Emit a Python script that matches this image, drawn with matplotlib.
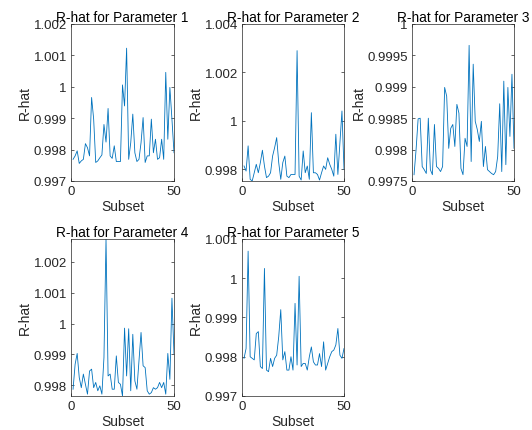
import matplotlib
matplotlib.use("Agg")
import matplotlib.pyplot as plt
import numpy as np

subsets = list(range(1, 51))

rhat_p1 = [0.99769, 0.99780, 0.99796, 0.99756, 0.99764, 0.99769, 0.99819, 0.99806, 0.99780, 0.99966,
           0.99897, 0.99759, 0.99764, 0.99774, 0.99783, 0.99880, 0.99824, 0.99931, 0.99780, 0.99772,
           0.99812, 0.99762, 0.99762, 0.99762, 1.00006, 0.99939, 1.00123, 0.99769, 0.99822, 0.99913,
           0.99790, 0.99762, 0.99769, 0.99822, 0.99902, 0.99759, 0.99780, 0.99780, 0.99897, 0.99790,
           0.99833, 0.99769, 0.99774, 0.99833, 0.99769, 1.00046, 0.99833, 0.99998, 0.99897, 0.99790]

rhat_p2 = [0.99814, 0.99793, 0.99897, 0.99759, 0.99752, 0.99786, 0.99821, 0.99786, 0.99828, 0.99879,
           0.99814, 0.99766, 0.99772, 0.99786, 0.99855, 0.99890, 0.99931, 0.99828, 0.99759, 0.99828,
           0.99855, 0.99772, 0.99766, 0.99779, 0.99779, 0.99779, 1.00290, 0.99772, 0.99756, 0.99876,
           0.99786, 0.99814, 0.99759, 1.00034, 0.99786, 0.99786, 0.99779, 0.99756, 0.99786, 0.99814,
           0.99800, 0.99848, 0.99821, 0.99800, 0.99772, 0.99945, 0.99779, 0.99910, 1.00041, 0.99800]

rhat_p3 = [0.99760, 0.99800, 0.99849, 0.99850, 0.99773, 0.99768, 0.99762, 0.99850, 0.99768, 0.99760,
           0.99840, 0.99773, 0.99770, 0.99765, 0.99773, 0.99899, 0.99885, 0.99802, 0.99834, 0.99840,
           0.99805, 0.99872, 0.99858, 0.99770, 0.99760, 0.99818, 0.99805, 0.99966, 0.99781, 0.99936,
           0.99845, 0.99832, 0.99813, 0.99845, 0.99773, 0.99805, 0.99768, 0.99765, 0.99762, 0.99760,
           0.99765, 0.99789, 0.99873, 0.99765, 0.99909, 0.99776, 0.99899, 0.99821, 0.99920, 0.99802]

rhat_p4 = [0.99787, 0.99868, 0.99903, 0.99825, 0.99792, 0.99836, 0.99803, 0.99771, 0.99846, 0.99852,
           0.99792, 0.99809, 0.99782, 0.99798, 0.99771, 0.99890, 1.00274, 0.99830, 0.99836, 0.99787,
           0.99787, 0.99895, 0.99809, 0.99803, 0.99765, 0.99985, 0.99830, 0.99983, 0.99782, 0.99965,
           0.99814, 0.99787, 0.99879, 0.99971, 0.99863, 0.99857, 0.99782, 0.99771, 0.99776, 0.99792,
           0.99787, 0.99792, 0.99809, 0.99792, 0.99809, 0.99771, 0.99903, 0.99819, 1.00082, 0.99901]

rhat_p5 = [0.99796, 0.99821, 1.00069, 0.99800, 0.99796, 0.99792, 0.99859, 0.99864, 0.99775, 0.99770,
           1.00025, 0.99766, 0.99762, 0.99796, 0.99775, 0.99796, 0.99804, 0.99851, 0.99920, 0.99792,
           0.99813, 0.99766, 0.99766, 0.99800, 0.99766, 0.99936, 0.99779, 1.00005, 0.99775, 0.99783,
           0.99783, 0.99766, 0.99800, 0.99825, 0.99787, 0.99779, 0.99779, 0.99808, 0.99775, 0.99838,
           0.99766, 0.99783, 0.99800, 0.99813, 0.99817, 0.99830, 0.99872, 0.99804, 0.99796, 0.99821]

series = [rhat_p1, rhat_p2, rhat_p3, rhat_p4, rhat_p5]
titles = ["R-hat for Parameter 1", "R-hat for Parameter 2", "R-hat for Parameter 3",
          "R-hat for Parameter 4", "R-hat for Parameter 5"]

yticks = [
    [0.997, 0.998, 0.999, 1.0, 1.001, 1.002],
    [0.998, 1.0, 1.002, 1.004],
    [0.9975, 0.998, 0.9985, 0.999, 0.9995, 1.0],
    [0.998, 0.999, 1.0, 1.001, 1.002],
    [0.997, 0.998, 0.999, 1.0, 1.001],
]
ytick_labels = [
    ["0.997", "0.998", "0.999", "1", "1.001", "1.002"],
    ["0.998", "1", "1.002", "1.004"],
    ["0.9975", "0.998", "0.9985", "0.999", "0.9995", "1"],
    ["0.998", "0.999", "1", "1.001", "1.002"],
    ["0.997", "0.998", "0.999", "1", "1.001"],
]
ylims = [
    (0.997, 1.002),
    (0.99752, 1.004),
    (0.9975, 1.0),
    (0.99765, 1.00274),
    (0.997, 1.001),
]

plt.rcParams['font.family'] = ['Liberation Sans', 'DejaVu Sans']
W, H = 532, 431
fig = plt.figure(figsize=(W / 100, H / 100), dpi=100)

# axes pixel boxes: (left, top, right, bottom)
boxes = [
    (71, 25, 174, 182),
    (242, 25, 344, 182),
    (412, 25, 514, 182),
    (71, 240, 174, 397),
    (242, 240, 344, 397),
]

dark = (0.15, 0.15, 0.15)
for k in range(5):
    l, t, r, b = boxes[k]
    ax = fig.add_axes([l / W, 1 - b / H, (r - l) / W, (b - t) / H])
    ax.plot(subsets, series[k], color='#0072BD', linewidth=0.6)
    ax.set_xlim(0, 50)
    ax.set_ylim(*ylims[k])
    ax.set_xticks([0, 50])
    ax.set_yticks(yticks[k])
    ax.set_yticklabels(ytick_labels[k])
    ax.tick_params(direction='in', length=2.5, width=0.5, top=True, right=True,
                   labelsize=9.5, colors=dark, pad=3)
    for s in ax.spines.values():
        s.set_linewidth(0.5)
        s.set_color(dark)
    ax.set_title(titles[k], fontsize=9.8, color='black', pad=2)
    ax.set_xlabel("Subset", fontsize=10, color=dark, labelpad=1)
    ax.set_ylabel("R-hat", fontsize=10, color=dark, labelpad=1)

fig.savefig("out.png", dpi=100, facecolor='white')
